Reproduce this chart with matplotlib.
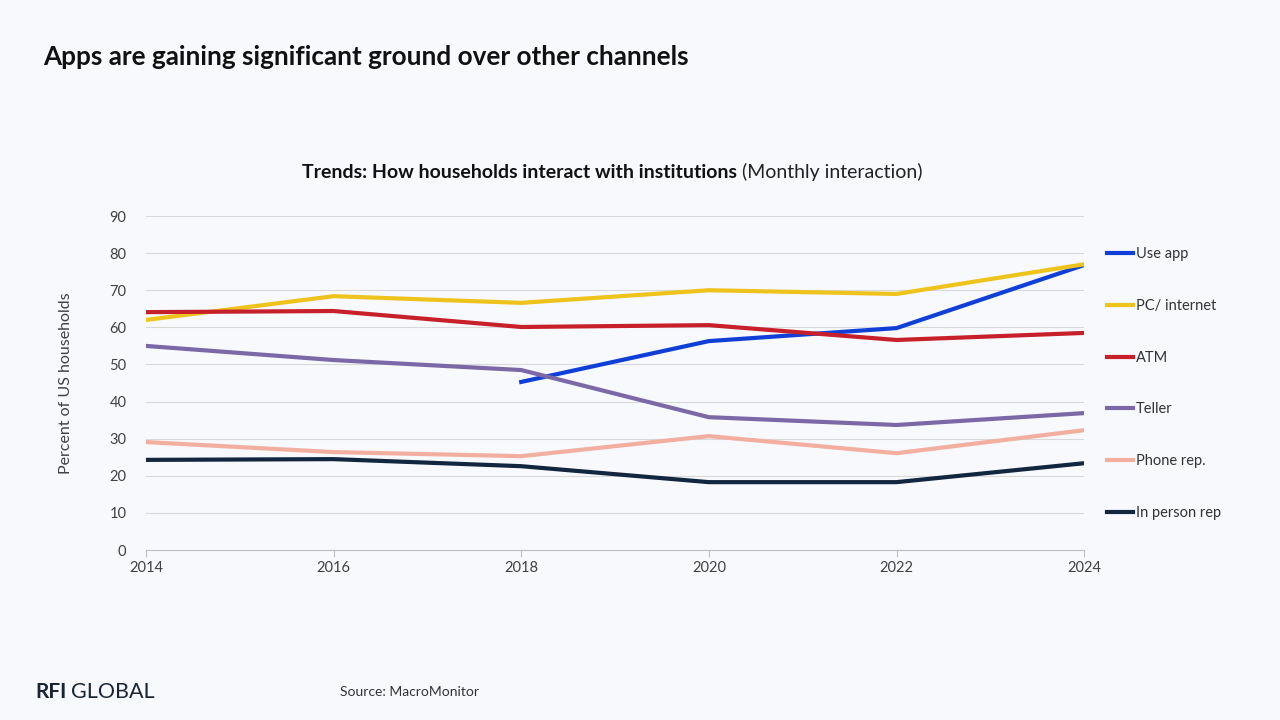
import matplotlib.pyplot as plt

plt.rcParams['font.family'] = ['Lato', 'DejaVu Sans']

years = [2014, 2016, 2018, 2020, 2022, 2024]
app_years = [2018, 2020, 2022, 2024]

use_app = [45.3, 56.3, 59.8, 76.8]
pc_internet = [62.0, 68.4, 66.6, 70.0, 69.0, 77.0]
atm = [64.1, 64.4, 60.1, 60.6, 56.6, 58.5]
teller = [55.0, 51.2, 48.5, 35.8, 33.7, 36.9]
phone_rep = [29.1, 26.4, 25.3, 30.7, 26.1, 32.3]
in_person = [24.3, 24.5, 22.6, 18.3, 18.3, 23.4]

bg = '#f7f9fd'
fig = plt.figure(figsize=(12.8, 7.2), dpi=100, facecolor=bg)
ax = fig.add_axes([0.114, 0.236, 0.733, 0.464], facecolor=bg)

lw = 3
ax.plot(app_years, use_app, color='#0f3fd6', lw=lw, label='Use app')
ax.plot(years, pc_internet, color='#eec41c', lw=lw, label='PC/ internet')
ax.plot(years, atm, color='#c8202a', lw=lw, label='ATM')
ax.plot(years, teller, color='#7b68a6', lw=lw, label='Teller')
ax.plot(years, phone_rep, color='#f2afa0', lw=lw, label='Phone rep.')
ax.plot(years, in_person, color='#12263f', lw=lw, label='In person rep')

ax.set_xlim(2014, 2024)
ax.set_ylim(0, 90)
ax.set_xticks(years)
ax.set_yticks(range(0, 91, 10))
ax.grid(axis='y', color='#d9d9d9', lw=0.8)
ax.set_axisbelow(True)
for s in ['top', 'right', 'left']:
    ax.spines[s].set_visible(False)
ax.spines['bottom'].set_color('#bfbfbf')
ax.tick_params(axis='y', length=0, pad=14, labelsize=10.5, labelcolor='#404040')
ax.tick_params(axis='x', length=5, color='#bfbfbf', pad=3, labelsize=10.5, labelcolor='#404040')
ax.set_ylabel('Percent of US households', fontsize=11.5, color='#404040', labelpad=26)

ax.legend(loc='upper left', bbox_to_anchor=(1.01, 0.945), frameon=False,
          handlelength=1.8, handletextpad=0.2, labelspacing=2.58, fontsize=10.5,
          labelcolor='#333333')

fig.text(0.034, 0.921, 'Apps are gaining significant ground over other channels',
         fontsize=18.8, fontweight='bold', color='#111111', va='center')

# subtitle: bold part followed directly by the regular part
t1 = fig.text(0.236, 0.761, 'Trends: How households interact with institutions ',
              fontsize=14, fontweight='bold', color='#111111', va='center')
fig.canvas.draw()
bb = t1.get_window_extent().transformed(fig.transFigure.inverted())
fig.text(bb.x1, 0.761, '(Monthly interaction)', fontsize=14, color='#222222', va='center')

fig.text(0.028, 0.039, 'RFI', fontsize=15, fontweight='bold', color='#1a2433', va='center')
fig.text(0.0555, 0.039, 'GLOBAL', fontsize=15.5, color='#1a2433', va='center')
fig.text(0.266, 0.039, 'Source: MacroMonitor', fontsize=10, color='#333333', va='center')

fig.savefig('out.png', dpi=100, facecolor=bg)
